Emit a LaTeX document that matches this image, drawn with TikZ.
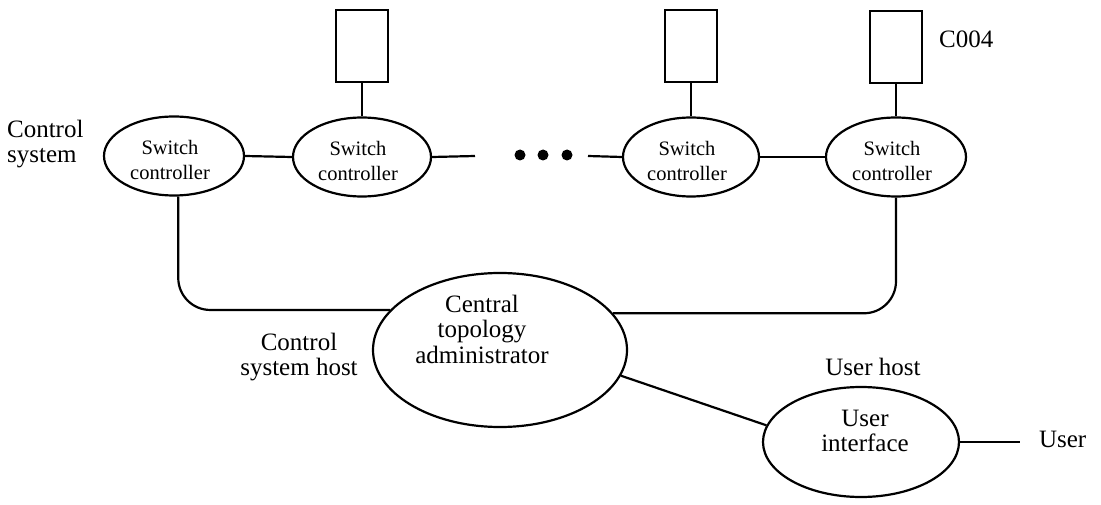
\documentclass[tikz,border=0pt]{standalone}
\usepackage{fontspec}
\setmainfont{Liberation Serif}
\usetikzlibrary{shapes.geometric,calc}
\begin{document}
\begin{tikzpicture}[x=1pt,y=-1pt,line width=2.2pt,
  lbl/.style={font=\fontsize{25}{25.5}\selectfont,inner sep=0pt,align=center},
  swtxt/.style={font=\fontsize{20.5}{25}\selectfont,inner sep=0pt,align=center},
  oval/.style={draw,ellipse,inner sep=0pt},
  swoval/.style={oval,minimum width=140pt,minimum height=79pt},
  device/.style={draw,rectangle,minimum width=52pt,minimum height=72pt,inner sep=0pt},
  dotmark/.style={fill,circle,minimum size=11pt,inner sep=0pt},
  link/.style={line width=2.2pt},
  elbow/.style={link,rounded corners=32pt}]
\useasboundingbox (0,0) rectangle (1101,505);

% switch controllers of the control system
\node[swoval] (sc1) at (174,156) {};
\node[swoval,minimum width=138pt] (sc2) at (362,157) {};
\node[swoval,minimum width=136pt] (sc3) at (691,157) {};
\node[swoval] (sc4) at (896,157) {};
\node[swtxt] (t1) at ($(sc1)+(-4,4)$) {Switch\\controller};
\node[swtxt] (t2) at ($(sc2)+(-4,4)$) {Switch\\controller};
\node[swtxt] (t3) at ($(sc3)+(-4,4)$) {Switch\\controller};
\node[swtxt] (t4) at ($(sc4)+(-4,4)$) {Switch\\controller};

% attached devices
\node[device] (d2) at (362,46) {};
\node[device] (d3) at (691,46) {};
\node[device] (d4) at (896,47) {};
\node[lbl,anchor=base west] (c004) at (938,48) {C004};

% central and user hosts
\node[oval,minimum width=254pt,minimum height=154pt] (cta) at (500,350) {};
\node[lbl] (ctatxt) at ($(cta)+(-18,-21)$) {Central\\topology\\administrator};
\node[oval,minimum width=196pt,minimum height=110pt] (ui) at (861,442) {};
\node[lbl] (uitxt) at ($(ui)+(4,-11)$) {User\\interface};

% labels
\node[lbl,align=left,anchor=west] (cs) at (6,144) {Control\\system};
\node[lbl] (csh) at (299,357) {Control\\system host};
\node[lbl,anchor=base] (uh) at (873,375) {User host};
\node[lbl,anchor=base west] (usr) at (1038,447) {User};

% ellipsis between the controllers
\coordinate (gapL) at (475,156);
\coordinate (gapR) at (588,156);
\node[dotmark] (dA) at (520,155) {};
\node[dotmark] (dB) at (543,155) {};
\node[dotmark] (dC) at (567,155) {};
\coordinate (uend) at (1020,442);

% connections
\draw[link] (sc1.east) -- (sc2.west);
\draw[link] (sc2.east) -- (gapL);
\draw[link] (gapR) -- (sc3.west);
\draw[link] (sc3.east) -- (sc4.west);
\draw[link] (d2.south) -- (sc2.north);
\draw[link] (d3.south) -- (sc3.north);
\draw[link] (d4.south) -- (sc4.north);
\draw[elbow] (sc1.-84) |- (cta.160);
\draw[elbow] (cta.18) -| (sc4.south);
\draw[link] (cta.-12) -- (ui.170);
\draw[link] (ui.east) -- (uend);
\end{tikzpicture}
\end{document}
